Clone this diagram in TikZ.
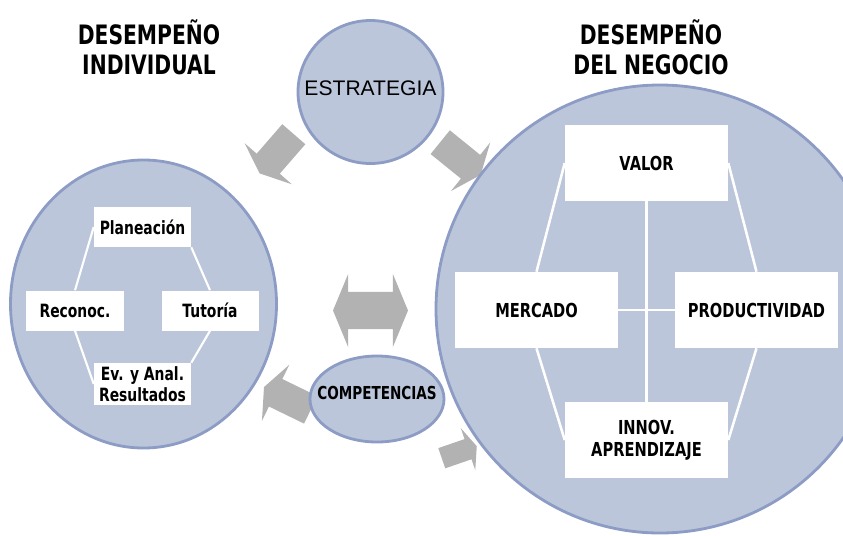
\documentclass[tikz,border=0pt]{standalone}
\usepackage{fontspec}
\setmainfont{DejaVu Sans}
\newfontfamily\boxfont[FakeStretch=0.76]{DejaVu Sans}
\newfontfamily\narrowfont{Liberation Sans}
\usetikzlibrary{shapes.geometric, shapes.arrows, positioning}
\definecolor{bubblefill}{RGB}{188, 198, 218}
\definecolor{bubbleline}{RGB}{141, 156, 196}
\definecolor{arrowgray}{RGB}{178, 178, 178}

\begin{document}
\begin{tikzpicture}[x=0.25mm, y=-0.25mm,
  bubble/.style={ellipse, draw=bubbleline, fill=bubblefill, line width=2pt, inner sep=0pt},
  bigbox/.style={fill=white, minimum width=40.75mm, minimum height=19mm, inner sep=1pt, align=center, font=\boxfont\bfseries\fontsize{13.7}{15.5}\selectfont},
  smallbox/.style={fill=white, minimum width=24.25mm, minimum height=10mm, inner sep=1pt, align=center, font=\boxfont\bfseries\fontsize{13}{14.5}\selectfont},
  headline/.style={align=center, font=\boxfont\bfseries\fontsize{19}{21.3}\selectfont},
  link/.style={white, line width=1.8pt},
  blockarrow/.style={single arrow, fill=arrowgray, inner xsep=0pt, inner ysep=3.75mm, minimum height=13mm, single arrow head extend=4mm, single arrow tip angle=135, anchor=tail}
]
  \useasboundingbox (0,0) rectangle (843,535);

  \node[blockarrow, rotate=229] (flechaA) at (294,134) {};
  \node[blockarrow, rotate=-39] (flechaB) at (440,142) {};
  \node[blockarrow, rotate=154] (flechaC) at (311,410) {};
  \node[blockarrow, minimum height=9.25mm, inner ysep=2.6mm, single arrow head extend=2.9mm, rotate=19] (flechaE) at (441.5,458.3) {};
  \node[double arrow, fill=arrowgray, inner xsep=0pt, inner ysep=4.6mm, minimum height=18.75mm,
        double arrow head extend=4.5mm, double arrow tip angle=135] (flechaD) at (370.5,310.5) {};

  \node[bubble, minimum width=36.25mm, minimum height=35.75mm,
        label={[yshift=0.9mm, font=\narrowfont\fontsize{15}{18}\selectfont]center:ESTRATEGIA}] (estr) at (370.5,92) {};
  \node[bubble, minimum width=66.5mm, minimum height=72mm] (indiv) at (143.5,304) {};
  \node[bubble, minimum width=112mm, minimum height=112mm] (negocio) at (660,309) {};
  \node[bubble, minimum width=33.5mm, minimum height=21.5mm,
        label={[yshift=1.5mm, font=\boxfont\bfseries\fontsize{12.7}{15}\selectfont]center:COMPETENCIAS}] (comp) at (377,399) {};

  \node[bigbox] (valor) at (646.5,163) {VALOR};
  \node[bigbox] (merc) at (536.5,310) {MERCADO};
  \node[bigbox] (prod) at (756.5,310) {PRODUCTIVIDAD};
  \node[bigbox] (innov) at (646.5,440) {INNOV.\\APRENDIZAJE};
  \draw[link] (valor.west) -- (merc.north);
  \draw[link] (valor.east) -- (prod.north);
  \draw[link] (merc.south) -- (innov.west);
  \draw[link] (prod.south) -- (innov.east);
  \draw[link] (valor.south) -- (innov.north);
  \draw[link] (merc.east) -- (prod.west);

  \node[smallbox] (plan) at (142.5,227) {Planeación};
  \node[smallbox] (recon) at (75,310.5) {Reconoc.};
  \node[smallbox] (tut) at (210,310.5) {Tutoría};
  \node[smallbox, minimum height=10.5mm] (ev) at (142.5,384) {Ev. y Anal.\\Resultados};
  \draw[link, line width=1.5pt] (plan.west) -- (recon.north);
  \draw[link, line width=1.5pt] (plan.south east) -- (tut.north);
  \draw[link, line width=1.5pt] (recon.south) -- (ev.west);
  \draw[link, line width=1.5pt] (tut.south) -- (ev.north east);

  \node[headline] (tind) at (149,47.5) {DESEMPEÑO\\INDIVIDUAL};
  \node[headline] (tneg) at (651,47.5) {DESEMPEÑO\\DEL NEGOCIO};
\end{tikzpicture}
\end{document}
